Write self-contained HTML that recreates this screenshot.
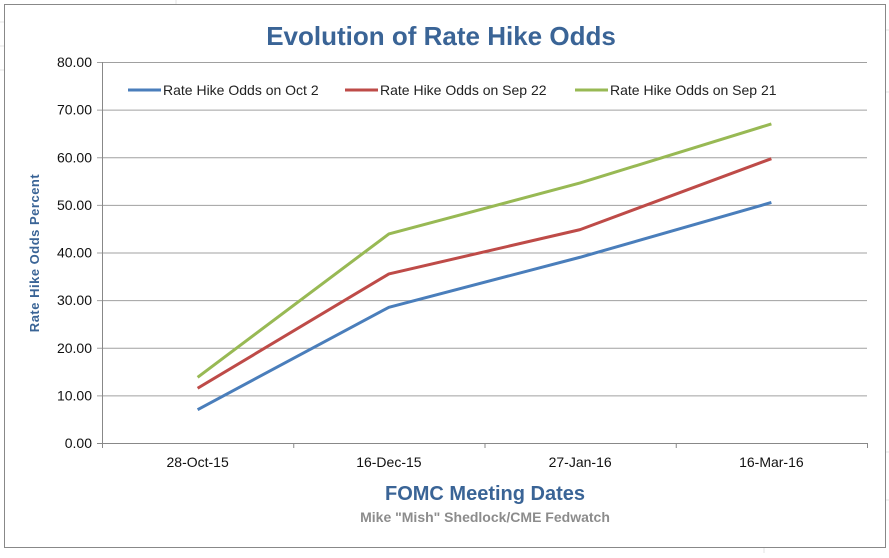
<!DOCTYPE html>
<html><head><meta charset="utf-8"><style>
body{margin:0;background:#fff;width:889px;height:553px;overflow:hidden;font-family:"Liberation Sans",sans-serif}
</style></head><body>
<svg id="chart" width="889" height="553" xmlns="http://www.w3.org/2000/svg">
<g stroke="#e3e3e3" stroke-width="1">
<line x1="176" y1="0" x2="176" y2="4"/><line x1="0" y1="22" x2="4" y2="22"/><line x1="0" y1="46" x2="4" y2="46"/><line x1="0" y1="70" x2="4" y2="70"/>
<line x1="886" y1="30" x2="889" y2="30"/><line x1="886" y1="92" x2="889" y2="92"/><line x1="886" y1="452" x2="889" y2="452"/><line x1="886" y1="500" x2="889" y2="500"/>
<line x1="764" y1="548" x2="764" y2="553"/>
</g>
<rect x="4.5" y="4.5" width="881" height="543" fill="#fff" stroke="#888"/>
<text x="441" y="45" text-anchor="middle" font-size="26" font-weight="bold" fill="#3a6496">Evolution of Rate Hike Odds</text>
<g id="grid"></g>
<g id="axes"></g>
<g id="series"></g>
<g font-size="14" fill="#222">
<g><line x1="128" y1="90" x2="161" y2="90" stroke="#4a7ebb" stroke-width="3"/><text x="163" y="95">Rate Hike Odds on Oct 2</text></g>
<g><line x1="345" y1="90" x2="378" y2="90" stroke="#be4b48" stroke-width="3"/><text x="380" y="95">Rate Hike Odds on Sep 22</text></g>
<g><line x1="575" y1="90" x2="608" y2="90" stroke="#98b954" stroke-width="3"/><text x="610" y="95">Rate Hike Odds on Sep 21</text></g>
</g>
<text transform="translate(39,253) rotate(-90)" text-anchor="middle" font-size="13" font-weight="bold" fill="#3a6496" letter-spacing="0.5">Rate Hike Odds Percent</text>
<text x="485" y="500" text-anchor="middle" font-size="20" font-weight="bold" fill="#3a6496">FOMC Meeting Dates</text>
<text x="485" y="522" text-anchor="middle" font-size="14" font-weight="bold" fill="#8c8c8c">Mike "Mish" Shedlock/CME Fedwatch</text>
</svg>
<script>
const categories=["28-Oct-15","16-Dec-15","27-Jan-16","16-Mar-16"];
const oct2=[7.0,28.5,39.0,50.5];
const sep22=[11.5,35.5,44.8,59.7];
const sep21=[13.8,43.9,54.6,67.0];
const yTicks=[0,10,20,30,40,50,60,70,80];
const NS="http://www.w3.org/2000/svg";
const L=102,R=867,T=62,B=443;
const y=v=>B-(v/80)*(B-T);
const bw=(R-L)/categories.length;
const x=i=>L+bw*(i+0.5);
function mk(tag,attrs,parent){const e=document.createElementNS(NS,tag);for(const k in attrs)e.setAttribute(k,attrs[k]);parent.appendChild(e);return e;}
const grid=document.getElementById('grid'),axes=document.getElementById('axes'),ser=document.getElementById('series');
yTicks.forEach(t=>{
 const g=mk('line',{x1:L-5,x2:R,y1:y(t)+0.5,y2:y(t)+0.5,stroke:t===0?'#888':'#a0a0a0'},grid);
 
 
 const tx=mk('text',{x:L-10,y:y(t)+5,'text-anchor':'end','font-size':14,fill:'#111'},axes);
 tx.textContent=t.toFixed(2);
 
 
});
const ya=mk('line',{x1:L+0.5,x2:L+0.5,y1:T,y2:B,stroke:'#888'},axes);


for(let i=0;i<=categories.length;i++){
 const tk=mk('line',{x1:L+bw*i+0.5,x2:L+bw*i+0.5,y1:B,y2:B+5,stroke:'#888'},axes);
 
 
}
categories.forEach((c,i)=>{
 const tx=mk('text',{x:x(i),y:B+24,'text-anchor':'middle','font-size':14,fill:'#111'},axes);
 tx.textContent=c;
 
 
});
[[oct2,'#4a7ebb','line-oct2'],[sep22,'#be4b48','line-sep22'],[sep21,'#98b954','line-sep21']].forEach(([d,c,n])=>{
 const p=mk('polyline',{points:d.map((v,i)=>x(i)+','+y(v)).join(' '),fill:'none',stroke:c,'stroke-width':3,'stroke-linejoin':'round'},ser);
 
 
});
</script>
</body></html>
